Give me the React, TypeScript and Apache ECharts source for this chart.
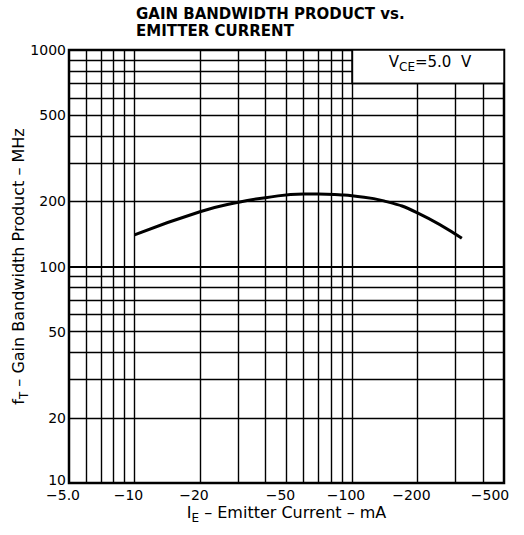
import React, { useEffect, useRef } from "react";
import * as echarts from "echarts";

// Curve (emitter current magnitude in mA, fT in MHz)
const emitterCurrent = [10, 20, 30, 40, 60, 70, 90, 100, 140, 200, 320];
const gainBandwidth = [140, 179, 198, 208, 216, 216, 214, 212, 201, 177, 135];

// Axis ticks
const xTickValues = [5, 10, 20, 50, 100, 200, 500];
const xTickLabels = ["−5.0", "−10", "−20", "−50", "−100", "−200", "−500"];
const yTickValues = [10, 20, 50, 100, 200, 500, 1000];
const yTickLabels = ["10", "20", "50", "100", "200", "500", "1000"];

// Log grid lines
const xGridFull = [6, 7, 8, 9, 10, 20, 30, 40, 50, 60, 70, 80, 90, 100];
const xGridShort = [200, 300, 400]; // stop under the annotation box
const yGridFull = [20, 30, 40, 50, 60, 70, 80, 90, 100, 200, 300, 400, 500, 600, 700];
const yGridShort = [800, 900]; // stop left of the annotation box

const FONT = "DejaVu Sans";

function nearestLabel(v: number, values: number[], labels: string[]) {
  let best = 0;
  let bd = Infinity;
  values.forEach((t, i) => {
    const d = Math.abs(Math.log10(t) - Math.log10(v));
    if (d < bd) {
      bd = d;
      best = i;
    }
  });
  return { label: labels[best], index: best };
}

export default function App() {
  const ref = useRef<HTMLDivElement>(null);

  useEffect(() => {
    if (!ref.current) return;
    const chart = echarts.init(ref.current, null, { renderer: "svg" });

    const ls = (w: number) => ({ width: w, color: "#000", type: "solid" });
    const lines: any[] = [];
    xGridFull.forEach((v) => lines.push({ xAxis: v, lineStyle: ls(1.4) }));
    xGridShort.forEach((v) => lines.push([{ coord: [v, 10], lineStyle: ls(1.4) }, { coord: [v, 700] }]));
    yGridFull.forEach((v) => lines.push({ yAxis: v, lineStyle: ls(v === 100 ? 1.9 : 1.4) }));
    yGridShort.forEach((v) => lines.push([{ coord: [5, v], lineStyle: ls(1.4) }, { coord: [100, v] }]));

    const labelRich = {
      n: { fontFamily: FONT, fontSize: 14, color: "#000", padding: [0, 12, 0, 0] },
      last: { fontFamily: FONT, fontSize: 14, color: "#000", padding: [0, 28, 0, 0] },
    };
    const yRich = {
      n: { fontFamily: FONT, fontSize: 14, color: "#000" },
      low: { fontFamily: FONT, fontSize: 14, color: "#000", padding: [0, 0, 6, 0] },
    };

    const nameRich = {
      a: { fontFamily: FONT, fontSize: 16, color: "#000", lineHeight: 20, verticalAlign: "top" },
      s: { fontFamily: FONT, fontSize: 12, color: "#000", lineHeight: 12, verticalAlign: "bottom" },
    };

    chart.setOption({
      animation: false,
      backgroundColor: "#fff",
      title: {
        text: "GAIN BANDWIDTH PRODUCT vs.\nEMITTER CURRENT",
        left: 136,
        top: 5,
        padding: 0,
        textStyle: {
          fontFamily: FONT,
          fontWeight: "bold",
          fontSize: 15,
          lineHeight: 17,
          color: "#000",
        },
      },
      grid: {
        left: 69,
        right: 20,
        top: 50,
        bottom: 52,
        containLabel: false,
        outerBoundsMode: "none",
        show: true,
        borderColor: "#000",
        borderWidth: 2.5,
        backgroundColor: "#fff",
      },
      xAxis: {
        type: "log",
        logBase: 10,
        min: 5,
        max: 500,
        name: "{a|I}{s|E}{a| – Emitter Current – mA}",
        nameLocation: "middle",
        nameGap: 21,
        nameMoveOverlap: false,
        nameTextStyle: { rich: nameRich },
        axisLine: { show: false },
        axisTick: { show: false },
        splitLine: { show: false },
        minorSplitLine: { show: false },
        axisLabel: {
          customValues: xTickValues,
          margin: 5,
          fontFamily: FONT,
          fontSize: 14,
          color: "#000",
          showMinLabel: true,
          showMaxLabel: true,
          hideOverlap: false,
          formatter: (v: number) => {
            const r = nearestLabel(v, xTickValues, xTickLabels);
            return r.index === xTickValues.length - 1 ? `{last|${r.label}}` : `{n|${r.label}}`;
          },
          rich: labelRich,
        },
      },
      yAxis: {
        type: "log",
        logBase: 10,
        min: 10,
        max: 1000,
        name: "{a|f}{s|T}{a| – Gain Bandwidth Product – MHz}",
        nameLocation: "middle",
        nameGap: 39,
        nameMoveOverlap: false,
        nameTextStyle: { rich: nameRich },
        axisLine: { show: false },
        axisTick: { show: false },
        splitLine: { show: false },
        axisLabel: {
          customValues: yTickValues,
          margin: 3,
          fontFamily: FONT,
          fontSize: 14,
          color: "#000",
          showMinLabel: true,
          showMaxLabel: true,
          hideOverlap: false,
          formatter: (v: number) => {
            const r = nearestLabel(v, yTickValues, yTickLabels);
            return r.index === 0 ? `{low|${r.label}}` : `{n|${r.label}}`;
          },
          rich: yRich,
        },
      },
      series: [
        {
          type: "line",
          data: [],
          silent: true,
          markLine: {
            silent: true,
            symbol: ["none", "none"],
            label: { show: false },
            lineStyle: { color: "#000", width: 1.4, type: "solid" },
            data: lines,
          },
          markArea: {
            silent: true,
            itemStyle: { color: "#fff", borderColor: "#000", borderWidth: 1.4 },
            label: {
              show: true,
              position: "inside",
              offset: [2, -3],
              formatter: "{v|V}{s|CE}{v|=5.0  V}",
              rich: {
                v: { fontFamily: FONT, fontSize: 15, color: "#000", lineHeight: 19, verticalAlign: "top" },
                s: { fontFamily: FONT, fontSize: 12, color: "#000", lineHeight: 12, verticalAlign: "bottom" },
              },
            },
            data: [[{ coord: [100, 1000] }, { coord: [500, 700] }]],
          },
        },
        {
          type: "line",
          smooth: true,
          symbol: "none",
          z: 5,
          lineStyle: { color: "#000", width: 3 },
          data: emitterCurrent.map((x, i) => [x, gainBandwidth[i]]),
        },
      ],
    });

    return () => chart.dispose();
  }, []);

  return (
    <div
      ref={ref}
      style={{ position: "absolute", left: 0, top: 0, width: 524, height: 535 }}
    />
  );
}
